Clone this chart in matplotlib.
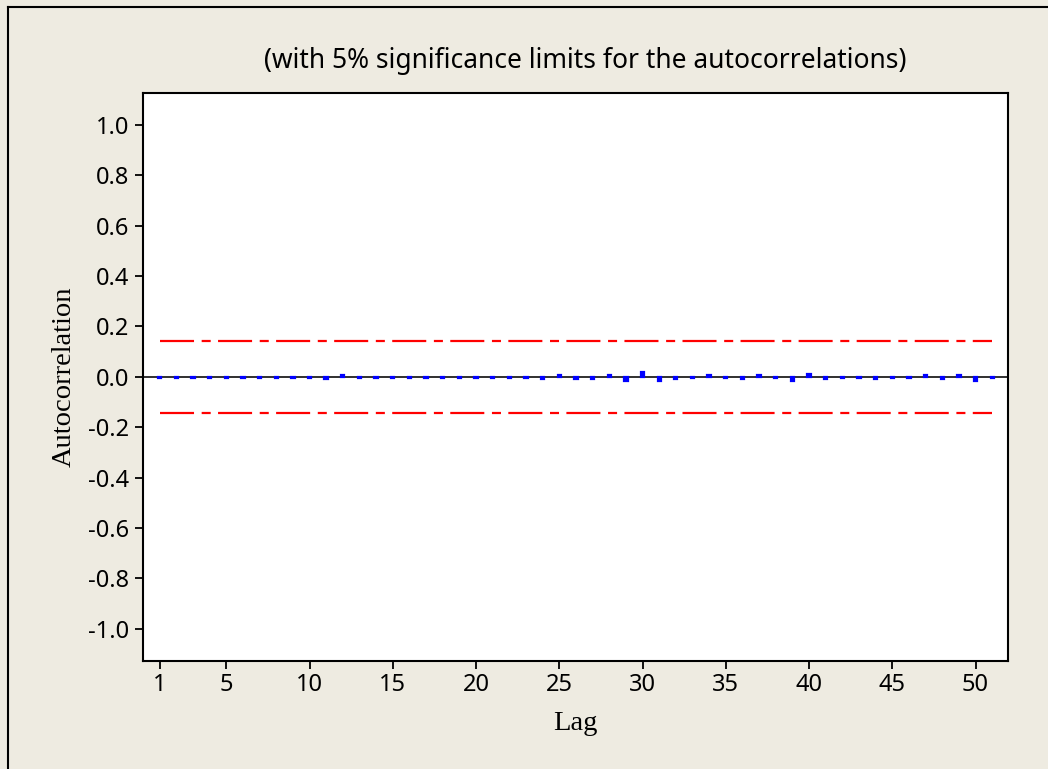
"""Autocorrelation function plot"""

import matplotlib
matplotlib.use("Agg")
import matplotlib.pyplot as plt
from matplotlib.lines import Line2D
import numpy as np

lags = np.arange(1, 52)
acf = [-0.003, -0.003, -0.003, -0.003, -0.003, -0.003, -0.003, -0.003, -0.003, -0.003,
       -0.007, 0.007, -0.003, -0.003, -0.003, -0.003, -0.003, -0.003, -0.003, -0.003,
       -0.003, -0.003, -0.003, -0.007, 0.006, -0.007, -0.007, 0.006, -0.015, 0.021,
       -0.015, -0.007, -0.003, 0.006, -0.003, -0.007, 0.006, -0.003, -0.015, 0.013,
       -0.007, -0.003, -0.003, -0.007, -0.003, -0.003, 0.006, -0.007, 0.006, -0.015,
       -0.003]
sig_limit = 0.142
yticks = np.round(np.arange(-1.0, 1.01, 0.2), 1)
xticks = [1, 5, 10, 15, 20, 25, 30, 35, 40, 45, 50]

bg = '#EEEBE1'
tick_font = ['Noto Sans', 'DejaVu Sans']
label_font = ['Liberation Serif', 'DejaVu Serif']

plt.rcParams['axes.unicode_minus'] = False
plt.rcParams['lines.scale_dashes'] = False

fig = plt.figure(figsize=(10.48, 7.69), dpi=100, facecolor=bg)
ax = fig.add_axes([143 / 1048, 1 - 660.7 / 769, (1008 - 143) / 1048, (660.7 - 93) / 769])
ax.set_facecolor('white')

# zero reference line
ax.axhline(0, color='#303030', lw=1.4, zorder=2)

# significance limits
for s in (1, -1):
    ax.plot([lags[0], lags[-1]], [s * sig_limit, s * sig_limit], color='red', lw=1.6,
            dashes=(24.5, 5.5, 6.5, 5.3), dash_capstyle='butt', zorder=3)

# acf bars (edge stroke keeps the tiny ones visible as small squares)
ax.bar(lags, acf, width=0.2, color='blue', edgecolor='blue', linewidth=1.6, zorder=4)

ax.set_xlim(0, 51.95)
ax.set_ylim(-1.127, 1.127)
ax.set_xticks(xticks)
ax.set_yticks(yticks)
ax.set_yticklabels(['%.1f' % v if abs(v) > 1e-9 else '0.0' for v in yticks])
ax.tick_params(direction='out', length=6, width=1.3, color='black', labelsize=17)
ax.tick_params(axis='y', pad=4)
ax.tick_params(axis='x', pad=3)
for lab in ax.get_xticklabels() + ax.get_yticklabels():
    lab.set_family(tick_font)
for sp in ax.spines.values():
    sp.set_linewidth(1.5)
    sp.set_color('black')

ax.set_xlabel('Lag', family=label_font, fontsize=20.5, labelpad=10)
ax.set_ylabel('Autocorrelation', family=label_font, fontsize=20.5, labelpad=8)

fig.text(585 / 1048, 1 - 61 / 769, '(with 5% significance limits for the autocorrelations)',
         ha='center', va='center', fontsize=19, family=tick_font)

# outer frame (left and top edges visible)
fig.add_artist(Line2D([8 / 1048, 8 / 1048], [0, 1 - 7 / 769], color='black', lw=1.5))
fig.add_artist(Line2D([8 / 1048, 1], [1 - 7 / 769, 1 - 7 / 769], color='black', lw=1.5))

fig.savefig('out.png', dpi=100, facecolor=bg)
